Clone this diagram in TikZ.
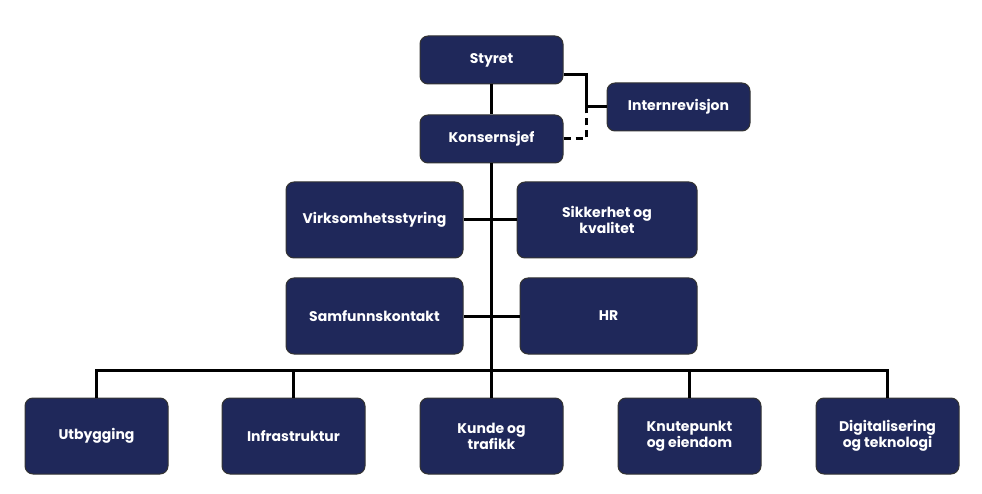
\documentclass[tikz,border=0pt]{standalone}
\usepackage{fontspec}
\setmainfont{Poppins}
\usetikzlibrary{calc}
\definecolor{navy}{RGB}{31,40,90}
\begin{document}
\begin{tikzpicture}[x=1pt,y=-1pt,
  box/.style={draw=black!80,line width=1pt,fill=navy,rounded corners=8pt,text=white,
    font=\fontsize{14}{16}\selectfont\bfseries,align=center,minimum width=143pt,minimum height=76pt,inner sep=2pt},
  topbox/.style={box,minimum height=48pt},
  widebox/.style={box,minimum width=177pt},
  link/.style={line width=3pt,black}]
\useasboundingbox (0,0) rectangle (982,494);
\node[topbox] (styret) at (491.5,60) {Styret};
\node[topbox] (konsern) at (491.5,139) {Konsernsjef};
\node[topbox] (intern) at (678.5,107) {Internrevisjon};
\coordinate (rev) at (586,107);
\node[widebox] (virk) at (374.5,220) {Virksomhetsstyring};
\node[box,minimum width=180pt] (sikk) at (607,220) {Sikkerhet og\\kvalitet};
\node[widebox] (samf) at (374.5,316) {Samfunnskontakt};
\node[widebox] (hr) at (608.5,316) {HR};
\node[box] (utb) at (96.5,436) {Utbygging};
\node[box] (infra) at (293.5,436) {Infrastruktur};
\node[box] (kunde) at (491.5,436) {Kunde og\\trafikk};
\node[box] (knute) at (689.5,436) {Knutepunkt\\og eiendom};
\node[box] (digi) at (887.5,436) {Digitalisering\\og teknologi};
\coordinate (bus) at (491.5,370);
% stab
\draw[link] (styret) -- (konsern);
\draw[link] ($(styret.south east)+(0,-10)$) -| (rev) -- (intern.west);
\draw[link,dashed,dash pattern=on 7pt off 5pt] (konsern.east) -| (rev);
\draw[link] (konsern.south) -- (bus);
\draw[link] (virk.east) -- (sikk.west);
\draw[link] (samf.east) -- (hr.west);
% divisjoner
\draw[link] (utb.north) |- (bus) -| (digi.north);
\draw[link] (infra.north) -- (infra.north |- bus);
\draw[link] (kunde.north) -- (bus);
\draw[link] (knute.north) -- (knute.north |- bus);
\end{tikzpicture}
\end{document}
